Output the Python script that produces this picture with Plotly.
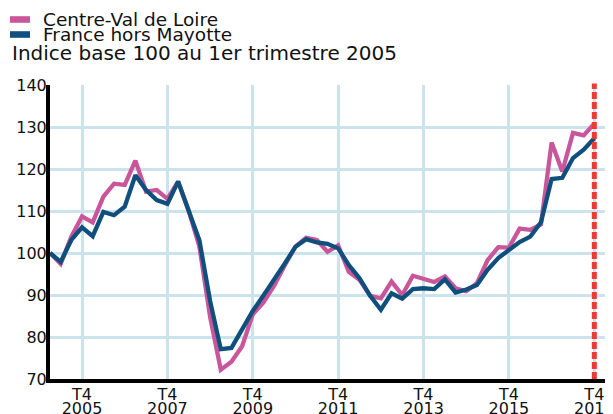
import plotly.graph_objects as go

quarters = list(range(52))  # 2005 T1 .. 2017 T4
centre_val_de_loire = [
    100.0, 97.4, 103.9, 108.7, 107.3, 113.4, 116.5, 116.2,
    122.0, 114.6, 115.0, 112.9, 117.0, 110.0, 101.5, 84.8,
    72.2, 74.1, 77.8, 85.4, 88.2, 92.2, 97.1, 101.5,
    103.6, 103.1, 100.3, 101.8, 95.5, 93.6, 89.8, 89.2,
    93.2, 90.0, 94.6, 93.8, 93.1, 94.4, 91.6, 90.9,
    92.8, 98.3, 101.4, 101.3, 105.8, 105.5, 106.8, 126.3,
    119.4, 128.6, 128.0, 130.8,
]
france_hors_mayotte = [
    100.0, 97.9, 103.1, 106.1, 104.0, 109.8, 109.0, 111.0,
    118.5, 115.0, 112.6, 111.7, 117.0, 110.0, 103.0, 88.6,
    77.1, 77.4, 81.7, 86.2, 89.9, 93.6, 97.5, 101.5,
    103.3, 102.5, 102.2, 101.1, 97.1, 94.0, 89.8, 86.5,
    90.4, 89.1, 91.4, 91.6, 91.4, 93.7, 90.6, 91.3,
    92.4, 96.0, 98.8, 100.7, 102.6, 103.9, 107.3, 117.6,
    117.9, 122.6, 124.6, 127.3,
]
tick_quarters = [3, 11, 19, 27, 35, 43, 51]
tick_t = ["T4"] * 7
tick_years = ["2005", "2007", "2009", "2011", "2013", "2015", "2017"]
y_ticks = [70, 80, 90, 100, 110, 120, 130, 140]
series_names = ["Centre-Val de Loire", "France hors Mayotte"]
series_colors = ["#c9569b", "#0e4f7d"]
title_text = "Indice base 100 au 1er trimestre 2005"
marker_quarter = 51

FONT = "DejaVu Sans"
GRID = "#cbe3ed"

# page has an 8px body margin: plot area in page pixels is x 50..605, y 85..379
PX0, PX1, PY0, PY1 = 50, 605, 85, 379


def px(xp):
    return (xp - PX0) / (PX1 - PX0)


def py(yp):
    return (PY1 - yp) / (PY1 - PY0)


fig = go.Figure()
for name, vals, col in zip(series_names, [centre_val_de_loire, france_hors_mayotte], series_colors):
    fig.add_trace(go.Scatter(x=quarters, y=vals, mode="lines", name=name,
                             line=dict(color=col, width=4.3), showlegend=False))

# invisible trace to carry the year axis
fig.add_trace(go.Scatter(x=tick_quarters, y=[None] * len(tick_quarters), xaxis="x2",
                         mode="lines", showlegend=False, hoverinfo="skip"))

# red dashed vertical marker
fig.add_shape(type="line", xref="x", yref="paper", x0=marker_quarter, x1=marker_quarter,
              y0=0, y1=1.005, line=dict(color="#ee3a33", width=5, dash="7px,3px"), layer="above")

# legend drawn manually
for i, (name, col) in enumerate(zip(series_names, series_colors)):
    yc = 19.5 + 15 * i
    fig.add_shape(type="rect", xref="paper", yref="paper",
                  x0=px(10), x1=px(30),
                  y0=py(yc + 3.3), y1=py(yc - 3.3),
                  fillcolor=col, line=dict(width=0))
    fig.add_annotation(text=name, xref="paper", yref="paper",
                       x=px(41), y=py(yc), xanchor="left", yanchor="middle",
                       showarrow=False, font=dict(family=FONT, size=18.5, color="#111111"))

fig.add_annotation(text=title_text, xref="paper", yref="paper",
                   x=px(10), y=py(53), xanchor="left", yanchor="middle",
                   showarrow=False, font=dict(family=FONT, size=20, color="#111111"))

fig.update_layout(
    width=613, height=406,
    margin=dict(l=42, r=16, t=77, b=35, autoexpand=False),
    paper_bgcolor="white", plot_bgcolor="white",
    showlegend=False,
    font=dict(family=FONT, size=16, color="#111111"),
    xaxis=dict(range=[0, 52], tickmode="array", tickvals=tick_quarters, ticktext=tick_t,
               showgrid=True, gridcolor=GRID, gridwidth=3, automargin=False,
               showline=True, linecolor="black", linewidth=3.5,
               ticks="", ticklabelstandoff=-2, zeroline=False, ticklabeloverflow="allow",
               tickfont=dict(family=FONT, size=16, color="#111111")),
    xaxis2=dict(overlaying="x", matches="x", anchor="y", side="bottom", automargin=False,
                range=[0, 52], tickmode="array", tickvals=tick_quarters, ticktext=tick_years,
                showgrid=False, showline=False, ticks="", ticklabelstandoff=18, zeroline=False,
                ticklabeloverflow="allow",
                tickfont=dict(family=FONT, size=16, color="#111111")),
    yaxis=dict(range=[70, 140], tickmode="array", tickvals=y_ticks, automargin=False,
               showgrid=True, gridcolor=GRID, gridwidth=3,
               showline=True, linecolor="black", linewidth=4,
               ticks="", ticklabelstandoff=-4, zeroline=False,
               tickfont=dict(family=FONT, size=16, color="#111111")),
)

fig.write_html("out.html")
